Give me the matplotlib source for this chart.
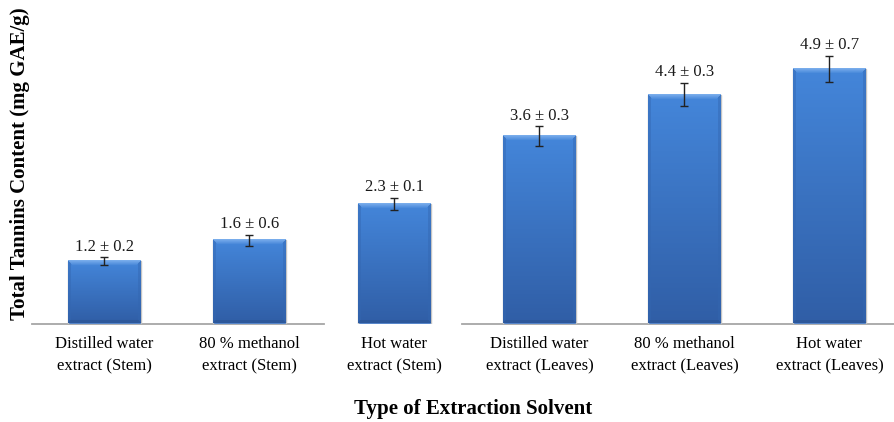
import numpy as np
import matplotlib
matplotlib.use("Agg")
import matplotlib.pyplot as plt
from matplotlib.colors import to_rgb

categories = ["Distilled water\nextract (Stem)", "80 % methanol\nextract (Stem)",
              "Hot water\nextract (Stem)", "Distilled water\nextract (Leaves)",
              "80 % methanol\nextract (Leaves)", "Hot water\nextract (Leaves)"]
values = [1.2, 1.6, 2.3, 3.6, 4.4, 4.9]
drawn_err = [0.07, 0.10, 0.12, 0.19, 0.22, 0.25]
sd_labels = ["0.2", "0.6", "0.1", "0.3", "0.3", "0.7"]

plt.rcParams['font.family'] = ['Liberation Serif', 'DejaVu Serif']

fig = plt.figure(figsize=(8.95, 4.22), dpi=100)
ax = fig.add_axes([32/895, (422-323.5)/422, (902-32)/895, 312/422])
x = np.arange(len(values))
width = 0.5
ax.set_xlim(-0.5, 5.5)
ax.set_ylim(0, 6)

bars = ax.bar(x, values, width=width, color='#3d78cc', edgecolor='#c4c4c4',
              linewidth=1.0, zorder=2)

top = np.array(to_rgb('#4486da'))
bot = np.array(to_rgb('#305ea6'))
hi = np.array(to_rgb('#86b6f0'))
side = np.array(to_rgb('#3366b0'))
dark = np.array(to_rgb('#2a5290'))
px_per_unit = 52.0
for b, v in zip(bars, values):
    H = int(round(v * px_per_unit))
    W = 73
    vv = np.arange(H)[:, None] * np.ones((1, W))
    uu = np.ones((H, 1)) * np.arange(W)[None, :]
    t = vv / max(H - 1, 1)
    img = top[None, None, :] * (1 - t[..., None]) + bot[None, None, :] * t[..., None]
    dside = np.minimum(uu, W - 1 - uu)
    dtop = vv
    dbot = H - 1 - vv
    ms = (dside < 3) & (dside <= dtop)
    img[ms] = img[ms] * 0.55 + side * 0.45
    mt = (dtop < 5) & (dtop <= dside)
    f = (1 - dtop / 5.0)[..., None]
    img = np.where(mt[..., None], img * (1 - 0.8 * f) + hi * 0.8 * f, img)
    mb = (dbot < 3) & (dbot <= dside)
    img[mb] = img[mb] * 0.5 + dark * 0.5
    x0 = b.get_x()
    ax.imshow(img, extent=[x0, x0 + b.get_width(), 0, v], aspect='auto',
              origin='upper', zorder=3, interpolation='bilinear')

ax.errorbar(x, values, yerr=drawn_err, fmt='none', ecolor='#222222',
            elinewidth=1.0, capsize=2.6, capthick=1.0, zorder=4)

for xi, v, e, s in zip(x, values, drawn_err, sd_labels):
    ax.annotate(f"{v} \u00b1 {s}", (xi, v + e), xytext=(0, 2),
                textcoords='offset points', ha='center', va='bottom',
                fontsize=12, color='#1a1a1a')

# baseline (drawn in two pieces as in the reference)
ax.plot([-0.5, 1.514], [0, 0], color='#a6a6a6', lw=1.3, zorder=1, clip_on=False)
ax.plot([2.466, 5.5], [0, 0], color='#a6a6a6', lw=1.3, zorder=1, clip_on=False)

for sp in ax.spines.values():
    sp.set_visible(False)
ax.set_yticks([])
ax.set_xticks(x)
ax.set_xticklabels(categories, fontsize=12, linespacing=1.5)
ax.tick_params(axis='x', length=0, pad=9)

fig.text(473/895, 1 - 409/422, "Type of Extraction Solvent", ha='center',
         va='center', fontsize=15, fontweight='bold')
fig.text(20/895, 1 - 164/422, "Total Tannins Content (mg GAE/g)", ha='center',
         va='center', rotation=90, fontsize=15, fontweight='bold')

fig.savefig("out.png", dpi=100)
